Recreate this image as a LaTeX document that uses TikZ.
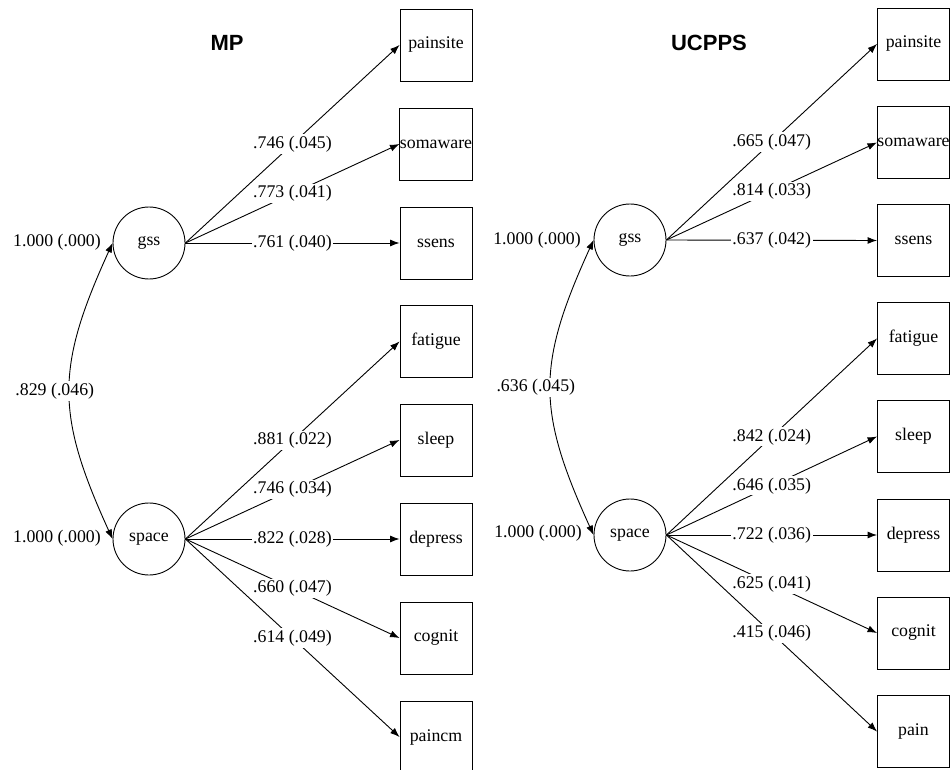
\documentclass[tikz,border=0pt]{standalone}
\usepackage{fontspec}
\setmainfont{Liberation Serif}
\newfontfamily\titlefont{Liberation Sans}
\usetikzlibrary{arrows.meta}
\begin{document}
\begin{tikzpicture}[x=1pt,y=-1pt,line width=0.9pt,
  font=\fontsize{17.8}{20}\selectfont,
  lat/.style={circle,draw,minimum size=72pt,inner sep=0pt},
  obs/.style={rectangle,draw,minimum width=72pt,minimum height=72pt,inner sep=0pt},
  load/.style={-{Latex[length=9.5pt,width=7pt]}},
  lab/.style={fill=white,inner sep=1.5pt,pos=0.5},
  cov/.style={{Latex[length=9.5pt,width=7pt]}-{Latex[length=9.5pt,width=7pt]}},
  ttl/.style={font=\titlefont\bfseries\fontsize{22}{26}\selectfont},
  txt/.style={inner sep=1pt}]
\useasboundingbox (0,0) rectangle (950,770);

% ---------- Left panel: MP ----------
\node[ttl] (tMP) at (227,43) {MP};
\node[lat] (gssL) at (149,243) {gss};
\node[lat] (spaceL) at (149,539) {space};
\node[obs] (painsiteL) at (436,45) {painsite};
\node[obs] (somawareL) at (436,144) {somaware};
\node[obs] (ssensL) at (436,243) {ssens};
\node[obs] (fatigueL) at (436,341.5) {fatigue};
\node[obs] (sleepL) at (436,440) {sleep};
\node[obs] (depressL) at (436,539) {depress};
\node[obs] (cognitL) at (436,638) {cognit};
\node[obs] (paincmL) at (436,737) {paincm};
\node[txt] (vgssL) at (57,242) {1.000 (.000)};
\node[txt] (vspaceL) at (57,538) {1.000 (.000)};

\draw[cov] (gssL.west) .. controls +(-57,125) and +(-57,-125) .. (spaceL.west)
  node[pos=0.5,xshift=-15pt,fill=white,inner sep=1.5pt] (cL) {.829 (.046)};

\draw[load] (gssL.east) -- (painsiteL.west) node[lab] (l1) {.746 (.045)};
\draw[load] (gssL.east) -- (somawareL.west) node[lab] (l2) {.773 (.041)};
\draw[load] (gssL.east) -- (ssensL.west) node[lab] (l3) {.761 (.040)};
\draw[load] (spaceL.east) -- (fatigueL.west) node[lab] (l4) {.881 (.022)};
\draw[load] (spaceL.east) -- (sleepL.west) node[lab] (l5) {.746 (.034)};
\draw[load] (spaceL.east) -- (depressL.west) node[lab] (l6) {.822 (.028)};
\draw[load] (spaceL.east) -- (cognitL.west) node[lab] (l7) {.660 (.047)};
\draw[load] (spaceL.east) -- (paincmL.west) node[lab] (l8) {.614 (.049)};

% ---------- Right panel: UCPPS ----------
\node[ttl] (tUC) at (709,43) {UCPPS};
\node[lat] (gssR) at (630,240) {gss};
\node[lat] (spaceR) at (630,535) {space};
\node[obs] (painsiteR) at (913.5,44) {painsite};
\node[obs] (somawareR) at (913.5,142.5) {somaware};
\node[obs] (ssensR) at (913.5,240.5) {ssens};
\node[obs] (fatigueR) at (913.5,338.5) {fatigue};
\node[obs] (sleepR) at (913.5,436.5) {sleep};
\node[obs] (depressR) at (913.5,535) {depress};
\node[obs] (cognitR) at (913.5,633) {cognit};
\node[obs] (painR) at (913.5,731.5) {pain};
\node[txt] (vgssR) at (537,240) {1.000 (.000)};
\node[txt] (vspaceR) at (538,533) {1.000 (.000)};

\draw[cov] (gssR.west) .. controls +(-57,125) and +(-57,-125) .. (spaceR.west)
  node[pos=0.5,xshift=-15pt,fill=white,inner sep=1.5pt] (cR) {.636 (.045)};

\draw[load] (gssR.east) -- (painsiteR.west) node[lab] (r1) {.665 (.047)};
\draw[load] (gssR.east) -- (somawareR.west) node[lab] (r2) {.814 (.033)};
\draw[load] (gssR.east) -- (ssensR.west) node[lab] (r3) {.637 (.042)};
\draw[load] (spaceR.east) -- (fatigueR.west) node[lab] (r4) {.842 (.024)};
\draw[load] (spaceR.east) -- (sleepR.west) node[lab] (r5) {.646 (.035)};
\draw[load] (spaceR.east) -- (depressR.west) node[lab] (r6) {.722 (.036)};
\draw[load] (spaceR.east) -- (cognitR.west) node[lab] (r7) {.625 (.041)};
\draw[load] (spaceR.east) -- (painR.west) node[lab] (r8) {.415 (.046)};
\end{tikzpicture}
\end{document}
